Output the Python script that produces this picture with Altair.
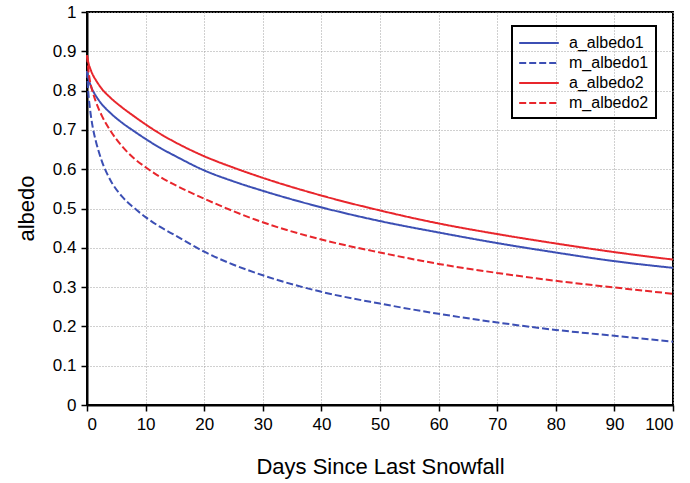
import altair as alt
import pandas as pd

days = [0, 0.25, 0.5, 1, 1.5, 2.5, 4, 6, 8, 10, 12.5, 15, 20, 25, 30, 40, 50, 60, 70, 80, 90, 100]
a_albedo1 = [0.85, 0.83, 0.818, 0.80, 0.787, 0.766, 0.743, 0.718, 0.697, 0.677, 0.654, 0.634, 0.597, 0.569, 0.545, 0.503, 0.468, 0.439, 0.412, 0.388, 0.366, 0.349]
m_albedo1 = [0.85, 0.79, 0.755, 0.705, 0.672, 0.622, 0.572, 0.53, 0.502, 0.478, 0.453, 0.432, 0.39, 0.357, 0.33, 0.288, 0.258, 0.232, 0.21, 0.191, 0.176, 0.161]
a_albedo2 = [0.89, 0.87, 0.858, 0.84, 0.827, 0.805, 0.782, 0.757, 0.735, 0.714, 0.69, 0.669, 0.633, 0.604, 0.578, 0.533, 0.495, 0.462, 0.435, 0.411, 0.389, 0.370]
m_albedo2 = [0.89, 0.85, 0.825, 0.795, 0.772, 0.737, 0.698, 0.658, 0.628, 0.605, 0.58, 0.56, 0.525, 0.493, 0.465, 0.421, 0.388, 0.359, 0.336, 0.316, 0.299, 0.283]

series_names = ["a_albedo1", "m_albedo1", "a_albedo2", "m_albedo2"]
series_values = [a_albedo1, m_albedo1, a_albedo2, m_albedo2]
x_ticks = list(range(0, 101, 10))
y_ticks = [round(i * 0.1, 1) for i in range(11)]

rows = []
for name, vals in zip(series_names, series_values):
    for d, v in zip(days, vals):
        rows.append({"days": d, "albedo": v, "series": name})
df = pd.DataFrame(rows)

BLUE = "#3c4fb4"
RED = "#e8262c"
FONT = "Liberation Sans"


def make_legend():
    return alt.Legend(title=None, orient="none", legendX=425, legendY=14,
                      symbolType="M-2.2,0L2.2,0", symbolSize=324,
                      symbolStrokeWidth=2, symbolOffset=10, labelOffset=20,
                      rowPadding=2, padding=7,
                      strokeColor="black",
                      labelFont=FONT, labelFontSize=16, labelColor="black")


chart = alt.Chart(df).mark_line(strokeWidth=2, interpolate="monotone").encode(
    x=alt.X("days:Q",
            scale=alt.Scale(domain=[0, 100], nice=False),
            axis=alt.Axis(values=x_ticks, title="Days Since Last Snowfall",
                          titleX=293, titleY=61, titleBaseline="middle", titleAlign="center")),
    y=alt.Y("albedo:Q",
            scale=alt.Scale(domain=[0, 1], nice=False),
            axis=alt.Axis(values=y_ticks, title="albedo",
                          titleX=-61, titleY=196, titleBaseline="middle", titleAlign="center",
                          labelExpr="datum.value == 0 ? '0' : datum.value == 1 ? '1' : format(datum.value, '.1f')")),
    color=alt.Color("series:N",
                    scale=alt.Scale(domain=series_names, range=[BLUE, BLUE, RED, RED]),
                    sort=series_names,
                    legend=make_legend()),
    strokeDash=alt.StrokeDash("series:N",
                              scale=alt.Scale(domain=series_names,
                                              range=[[1, 0], [7, 3], [1, 0], [7, 3]]),
                              sort=series_names,
                              legend=make_legend()),
    order=alt.Order("series:N"),
).properties(
    width=586, height=393,
    autosize=alt.AutoSizeParams(type="none"),
    padding={"left": 87, "top": 12, "right": 17, "bottom": 78},
    background="white",
).configure_view(
    stroke="black", strokeWidth=2
).configure_axis(
    domainColor="black", domainWidth=2,
    tickColor="black", tickWidth=1.5, tickSize=6,
    grid=True, gridColor="#a0a0a0", gridDash=[1, 2], gridWidth=1,
    labelFont=FONT, labelFontSize=17, labelColor="black", labelPadding=5,
    titleFont=FONT, titleFontSize=22, titleFontWeight="normal", titleColor="black",
).configure_legend(
    strokeWidth=2
)

chart.save("out.html", embed_options={"renderer": "svg", "actions": False})
